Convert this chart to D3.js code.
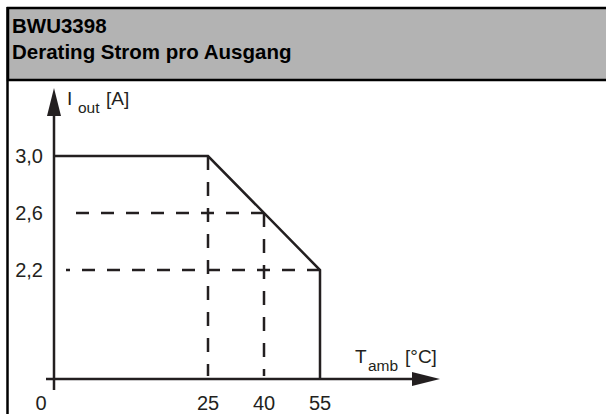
<!DOCTYPE html>
<html>
<head>
<meta charset="utf-8">
<script src="https://cdn.jsdelivr.net/npm/d3@7"></script>
<style>
  body { margin: 0; background: #fff; }
  svg { display: block; font-family: "Liberation Sans", Arial, sans-serif; }
</style>
</head>
<body>
<script>
// derating curve: ambient temperature (°C) vs max output current (A)
const temps    = [0, 25, 55, 55]
const currents = [3.0, 3.0, 2.2, 0]

// dashed helper lines [x1, y1, x2, y2] in data units
const guides = [
  [25, 3.0, 25, 0],
  [40, 2.6, 40, 0],
  [40, 2.6, 0, 2.6],
  [55, 2.2, 0, 2.2]
]

const xTicks = [0, 25, 40, 55]
const xTickLabels = ["0", "25", "40", "55"]
const yTicks = [3.0, 2.6, 2.2]
const yTickLabels = ["3,0", "2,6", "2,2"]

const titleLines = ["BWU3398", "Derating Strom pro Ausgang"]

const width = 606, height = 414
const ink = "#231f20"

// the drawing isn't to scale near the origin, so piecewise scales
const x = d3.scaleLinear().domain([0, 25, 55]).range([54, 208, 320])
const y = d3.scaleLinear().domain([0, 2.2, 3.0]).range([379, 270, 156])

const svg = d3.select("body").append("svg")
    .attr("width", width)
    .attr("height", height)

// header box
svg.append("rect")
    .attr("x", 8).attr("y", 8)
    .attr("width", width).attr("height", 72)
    .attr("fill", "#b3b3b3")
    .attr("stroke", "#000")
    .attr("stroke-width", 2.5)
svg.append("line")
    .attr("x1", 7.5).attr("x2", 7.5)
    .attr("y1", 7).attr("y2", height)
    .attr("stroke", "#000")
    .attr("stroke-width", 2.5)

svg.append("g")
    .attr("font-weight", "bold")
    .attr("font-size", 20.5)
    .attr("fill", "#000")
  .selectAll("text")
  .data(titleLines)
  .join("text")
    .attr("x", 12)
    .attr("y", (d, i) => 33 + i * 25.5)
    .text(d => d)

// dashed guides
svg.append("g")
    .attr("stroke", ink)
    .attr("stroke-width", 2.5)
    .attr("fill", "none")
  .selectAll("line")
  .data(guides)
  .join("line")
    .attr("x1", d => x(d[0]))
    .attr("y1", d => y(d[1]))
    .attr("x2", d => d[2] === 0 ? x(0) + 12 : x(d[2]))
    .attr("y2", d => d[3] === 0 ? y(0) - 3 : y(d[3]))
    .attr("stroke-dasharray", d => d[0] === d[2] ? "14,12" : "13,12")

// derating curve
const line = d3.line()
    .x(d => x(d[0]))
    .y(d => y(d[1]))

svg.append("path")
    .datum([[0, currents[0]]].concat(temps.map((t, i) => [t, currents[i]])))
    .attr("d", line)
    .attr("fill", "none")
    .attr("stroke", ink)
    .attr("stroke-width", 2.5)

// axes
const axes = svg.append("g").attr("stroke", ink).attr("stroke-width", 2.5)
axes.append("line")
    .attr("x1", x(0)).attr("x2", x(0))
    .attr("y1", y(0) + 11).attr("y2", 110)
axes.append("line")
    .attr("x1", x(0) - 8).attr("x2", 420)
    .attr("y1", y(0)).attr("y2", y(0))

svg.append("path")
    .attr("fill", ink)
    .attr("d", `M${x(0)},88L${x(0) - 7},116L${x(0) + 7},116Z`)
svg.append("path")
    .attr("fill", ink)
    .attr("d", `M440,${y(0)}L412,${y(0) - 7}L412,${y(0) + 7}Z`)

// tick labels
svg.append("g")
    .attr("font-size", 20)
    .attr("fill", ink)
    .attr("text-anchor", "end")
  .selectAll("text")
  .data(yTicks)
  .join("text")
    .attr("x", 43)
    .attr("y", d => y(d) + 7)
    .text((d, i) => yTickLabels[i])

svg.append("g")
    .attr("font-size", 20)
    .attr("fill", ink)
    .attr("text-anchor", "middle")
  .selectAll("text")
  .data(xTicks)
  .join("text")
    .attr("x", d => d === 0 ? x(d) - 13 : x(d))
    .attr("y", 410)
    .text((d, i) => xTickLabels[i])

// axis titles
const yTitle = svg.append("text")
    .attr("fill", ink)
    .attr("font-size", 19)
    .attr("x", x(0) + 13)
    .attr("y", 105)
yTitle.append("tspan").text("I")
yTitle.append("tspan").attr("x", x(0) + 24).attr("dy", 8).attr("font-size", 15.5).text("out")
yTitle.append("tspan").attr("x", x(0) + 52).attr("dy", -8).text("[A]")

const xTitle = svg.append("text")
    .attr("fill", ink)
    .attr("font-size", 19)
    .attr("x", 355)
    .attr("y", 363)
xTitle.append("tspan").text("T")
xTitle.append("tspan").attr("x", 368).attr("dy", 8).attr("font-size", 15.5).text("amb")
xTitle.append("tspan").attr("x", 405).attr("dy", -8).text("[°C]")
</script>
</body>
</html>
